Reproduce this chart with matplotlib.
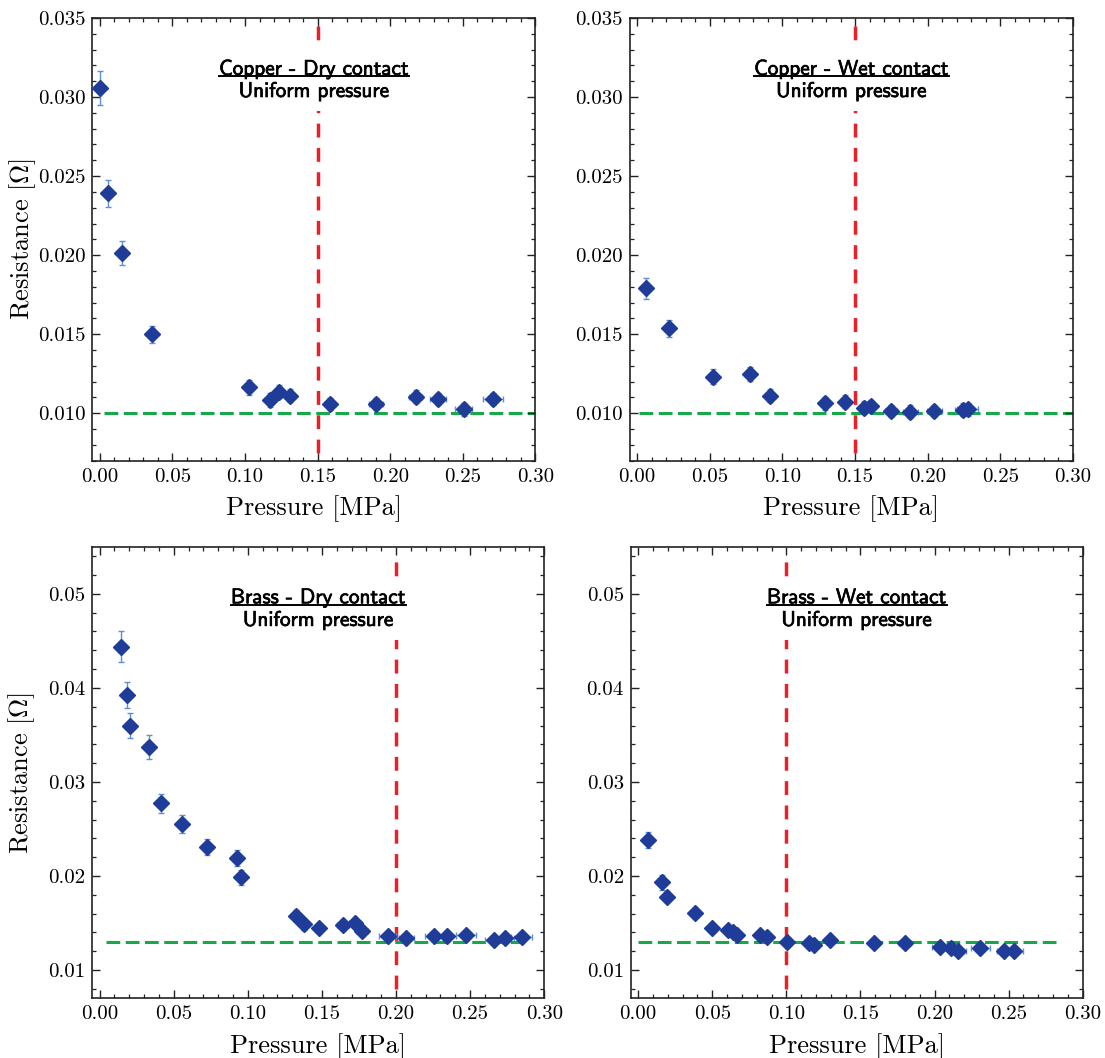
import matplotlib
matplotlib.use("Agg")
import matplotlib.pyplot as plt
import matplotlib.patheffects as pe
from matplotlib.ticker import MultipleLocator, FormatStrFormatter
from matplotlib.lines import Line2D
from matplotlib.patches import Rectangle
from matplotlib.transforms import Bbox

plt.rcParams['font.family'] = 'cmr10'
plt.rcParams['mathtext.fontset'] = 'cm'
plt.rcParams['axes.formatter.use_mathtext'] = True

# Copper - dry contact
cu_dry_p = [0.000, 0.0058, 0.0152, 0.0360, 0.1027, 0.1169, 0.1234, 0.1307, 0.1582, 0.1903, 0.2174, 0.2326, 0.2505, 0.2708]
cu_dry_r = [0.03057, 0.02390, 0.02013, 0.01498, 0.01165, 0.01084, 0.01137, 0.01112, 0.01059, 0.01059, 0.01105, 0.01090, 0.01025, 0.01090]
cu_dry_rerr = [0.0011, 0.00087, 0.00074, 0.00055, 0.00047, 0.00043, 0.00043, 0.00042, 0.0004, 0.0004, 0.0004, 0.0004, 0.0004, 0.0004]
cu_dry_perr = [0.0005, 0.0008, 0.001, 0.0015, 0.003, 0.003, 0.003, 0.003, 0.003, 0.005, 0.0048, 0.0055, 0.006, 0.0069]

# Copper - wet contact
cu_wet_p = [0.0061, 0.0221, 0.0523, 0.0779, 0.0912, 0.1292, 0.1428, 0.1564, 0.1608, 0.1747, 0.1881, 0.2046, 0.2246, 0.2275]
cu_wet_r = [0.01789, 0.01536, 0.01232, 0.01249, 0.01111, 0.01063, 0.01073, 0.01035, 0.01044, 0.01015, 0.0101, 0.01013, 0.01023, 0.01025]
cu_wet_rerr = [0.00066, 0.00056, 0.00045, 0.00045, 0.0004, 0.0004, 0.0004, 0.0004, 0.0004, 0.0004, 0.0004, 0.0004, 0.0004, 0.0004]
cu_wet_perr = [0.0005, 0.001, 0.002, 0.002, 0.002, 0.003, 0.003, 0.003, 0.003, 0.004, 0.005, 0.005, 0.006, 0.007]

# Brass - dry contact
br_dry_p = [0.0147, 0.0183, 0.0204, 0.0335, 0.0415, 0.0555, 0.0724, 0.0926, 0.0954, 0.1324, 0.1381, 0.1483,
            0.1640, 0.1721, 0.1768, 0.1944, 0.2070, 0.2255, 0.2343, 0.2473, 0.2658, 0.2734, 0.2848]
br_dry_r = [0.04439, 0.03927, 0.0360, 0.03368, 0.02774, 0.02556, 0.02308, 0.02191, 0.01986, 0.0158, 0.01485, 0.01445,
            0.0148, 0.01506, 0.01417, 0.0136, 0.01346, 0.01364, 0.0136, 0.01368, 0.01318, 0.01339, 0.01353]
br_dry_rerr = [0.00164, 0.0014, 0.0013, 0.00127, 0.001, 0.00094, 0.00083, 0.00083, 0.00077, 0.0006, 0.0006, 0.0005,
               0.0005, 0.0005, 0.0005, 0.0005, 0.0005, 0.0005, 0.0005, 0.0005, 0.0005, 0.0005, 0.0005]
br_dry_perr = [0.0005, 0.0005, 0.0005, 0.001, 0.001, 0.0015, 0.002, 0.002, 0.002, 0.003, 0.003, 0.003,
               0.004, 0.004, 0.004, 0.0057, 0.0053, 0.006, 0.006, 0.007, 0.006, 0.0065, 0.007]

# Brass - wet contact
br_wet_p = [0.0067, 0.0162, 0.0198, 0.0383, 0.0500, 0.0605, 0.0638, 0.0667, 0.0819, 0.0871, 0.1005, 0.1155,
            0.1186, 0.1298, 0.1593, 0.1800, 0.2036, 0.2112, 0.2160, 0.2310, 0.2471, 0.2536]
br_wet_r = [0.02381, 0.01936, 0.01781, 0.01611, 0.01452, 0.01428, 0.01403, 0.01368, 0.01375, 0.0135, 0.01301, 0.0129,
            0.01269, 0.01325, 0.01283, 0.01283, 0.01248, 0.01237, 0.01198, 0.0124, 0.01198, 0.01201]
br_wet_rerr = [0.00085, 0.0008, 0.0006, 0.0005, 0.0005, 0.0005, 0.0005, 0.0004, 0.0004, 0.0004, 0.0004, 0.0004,
               0.0004, 0.0004, 0.0004, 0.0004, 0.0004, 0.0004, 0.0004, 0.0004, 0.0004, 0.0004]
br_wet_perr = [0.0005, 0.0008, 0.0008, 0.001, 0.0015, 0.002, 0.002, 0.002, 0.002, 0.002, 0.002, 0.003,
               0.003, 0.003, 0.003, 0.004, 0.005, 0.005, 0.005, 0.0063, 0.005, 0.0062]

titles = ["Copper - Dry contact", "Copper - Wet contact", "Brass - Dry contact", "Brass - Wet contact"]
subtitle = "Uniform pressure"
limit_pressure = [0.15, 0.15, 0.20, 0.10]
saturation_r = [0.010, 0.010, 0.013, 0.013]

fig = plt.figure(figsize=(11.05, 10.58), dpi=100)

# [left, bottom, width, height]
boxes = [[0.0837, 0.5646, 0.4009, 0.4184],
         [0.5701, 0.5646, 0.4009, 0.4184],
         [0.0835, 0.0564, 0.4090, 0.4268],
         [0.5708, 0.0564, 0.4090, 0.4268]]

data = [(cu_dry_p, cu_dry_r, cu_dry_perr, cu_dry_rerr),
        (cu_wet_p, cu_wet_r, cu_wet_perr, cu_wet_rerr),
        (br_dry_p, br_dry_r, br_dry_perr, br_dry_rerr),
        (br_wet_p, br_wet_r, br_wet_perr, br_wet_rerr)]

green_span = [(0.003, 0.30), (0.001, 0.30), (0.004, 0.29), (0.0, 0.283)]
red_span = [(0.0075, 0.0345), (0.0075, 0.0345), (0.008, 0.0535), (0.008, 0.0535)]

bold = [pe.withStroke(linewidth=0.5, foreground='black')]

panels = []
for i in range(4):
    ax = fig.add_axes(boxes[i])
    p, r, perr, rerr = data[i]
    copper = i < 2

    ax.plot(green_span[i], [saturation_r[i]] * 2, color='#18a84a', lw=2.2,
            linestyle=(0, (4.5, 1.8)), zorder=1)
    ax.plot([limit_pressure[i]] * 2, red_span[i], color='#e8202a', lw=2.5,
            linestyle=(0, (4, 3)), zorder=1)

    ax.errorbar(p, r, xerr=perr, yerr=rerr, fmt='D', ms=8.5, mfc='#1f3c98', mec='#1f3c98',
                ecolor='#5b8fd6', elinewidth=1.0, capsize=2.5, capthick=1.0, zorder=3)

    ax.set_xlim(-0.005, 0.30)
    ax.xaxis.set_major_locator(MultipleLocator(0.05))
    ax.xaxis.set_minor_locator(MultipleLocator(0.01))
    ax.xaxis.set_major_formatter(FormatStrFormatter('%.2f'))
    if copper:
        ax.set_ylim(0.007, 0.035)
        ax.yaxis.set_major_locator(MultipleLocator(0.005))
        ax.yaxis.set_minor_locator(MultipleLocator(0.001))
        ax.yaxis.set_major_formatter(FormatStrFormatter('%.3f'))
    else:
        ax.set_ylim(0.007, 0.055)
        ax.yaxis.set_major_locator(MultipleLocator(0.01))
        ax.yaxis.set_minor_locator(MultipleLocator(0.002))
        ax.yaxis.set_major_formatter(FormatStrFormatter('%.2f'))

    ax.tick_params(which='both', direction='in', top=True, right=True, labelsize=15, color='#222222')
    ax.tick_params(which='major', length=6, width=1.0, pad=5)
    ax.tick_params(which='minor', length=3, width=0.9)
    for s in ax.spines.values():
        s.set_linewidth(1.2)
        s.set_color('#222222')

    ax.set_xlabel('Pressure [MPa]', fontsize=19, labelpad=7)
    if i % 2 == 0:
        ax.set_ylabel(r'Resistance [$\Omega$]', fontsize=19)
        ax.yaxis.set_label_coords(-0.122, 0.5)

    y1 = 0.884 if copper else 0.887
    y2 = 0.834 if copper else 0.837
    t1 = ax.text(0.5, y1, titles[i], transform=ax.transAxes, ha='center', va='center',
                 fontsize=15.3, family='cmss10', zorder=5, path_effects=bold)
    t2 = ax.text(0.5, y2, subtitle, transform=ax.transAxes, ha='center', va='center',
                 fontsize=15.3, family='cmss10', zorder=5, path_effects=bold)
    panels.append((ax, t1, t2))

fig.canvas.draw()
renderer = fig.canvas.get_renderer()
for ax, t1, t2 in panels:
    inv = ax.transAxes.inverted()
    b1 = t1.get_window_extent(renderer).transformed(inv)
    b2 = t2.get_window_extent(renderer).transformed(inv)
    bb = Bbox.union([b1, b2])
    w_px = ax.bbox.width
    h_px = ax.bbox.height
    padx = 10 / w_px
    pady = 10 / h_px
    ax.add_patch(Rectangle((bb.x0 - padx, bb.y0 - pady), bb.width + 2 * padx, bb.height + 2 * pady,
                           transform=ax.transAxes, facecolor='white', edgecolor='none', zorder=4))
    yline = b1.y0 + 2.5 / h_px
    ax.add_line(Line2D([b1.x0, b1.x1], [yline, yline], transform=ax.transAxes,
                       color='black', lw=1.4, zorder=6))

fig.savefig('out.png', dpi=100)
